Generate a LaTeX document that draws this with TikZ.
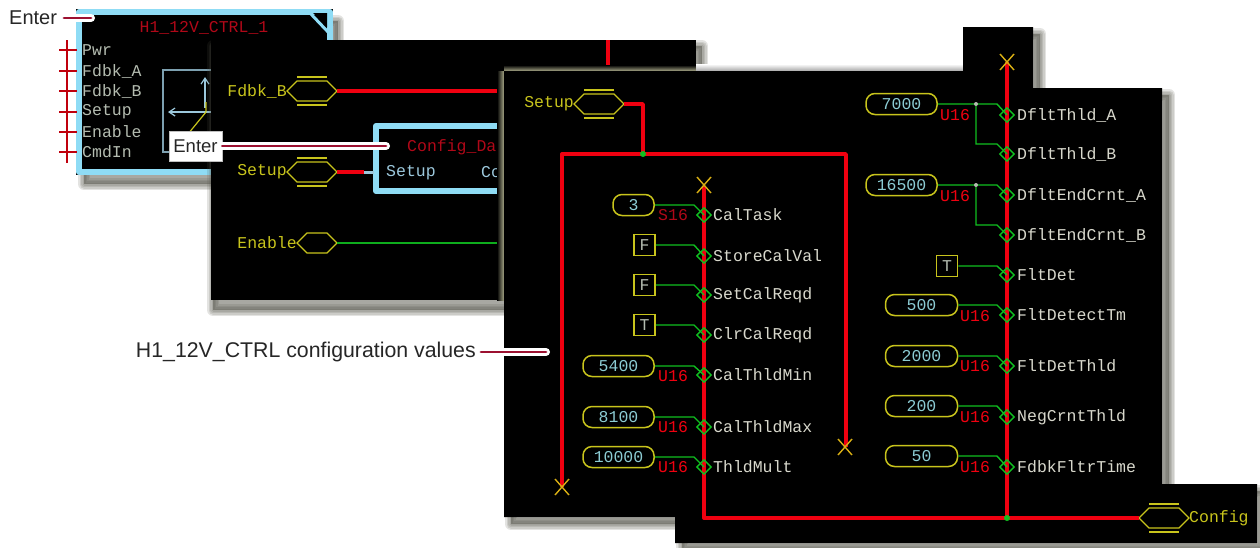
\documentclass[tikz,border=0pt]{standalone}
\usepackage{fontspec}
\setmainfont{Liberation Sans}
\newfontfamily\cadfont{Liberation Mono}
\usetikzlibrary{calc,shapes.geometric,arrows.meta}
\definecolor{cadcyan}{HTML}{8FDCF5}
\definecolor{cadred}{HTML}{F00010}
\definecolor{darkred}{HTML}{B00818}
\definecolor{cadyellow}{HTML}{C8C41C}
\definecolor{cadgreen}{HTML}{10C020}
\definecolor{cadval}{HTML}{8CCCD4}
\definecolor{cadlabel}{HTML}{D8D8CC}
\definecolor{cadgrey}{HTML}{B4BCB0}
\definecolor{cadblue}{HTML}{9CC8DC}
\definecolor{leader}{HTML}{9C1030}
\definecolor{shade}{HTML}{55554A}
\definecolor{khaki}{HTML}{A8A888}
\tikzset{
  cad/.style={font=\cadfont\fontsize{16.5}{18}\selectfont,inner sep=0pt},
  sig/.style={cad,anchor=west,text=cadlabel},
  pinlabel/.style={cad,anchor=west,text=cadgrey},
  portlabel/.style={cad,anchor=east,text=cadyellow},
  typelabel/.style={cad,anchor=west,text=cadred},
  valbox/.style={cad,draw=cadyellow,line width=1.5pt,rounded corners=9pt,minimum height=21pt,text=cadval},
  constbox/.style={cad,draw=cadyellow,line width=1.5pt,minimum width=21pt,minimum height=21pt,text=cadgrey},
  pindia/.style={diamond,draw=cadgreen,line width=1.4pt,minimum width=15pt,minimum height=15pt,inner sep=0pt},
  wire/.style={draw=cadgreen,line width=1.4pt},
  bus/.style={draw=cadred,line width=3.4pt},
  endx/.style={draw=cadyellow!70!orange,line width=1.4pt},
  dot/.style={circle,fill=cadgreen,inner sep=0pt,minimum size=6pt},
  greydot/.style={circle,fill=cadgrey,inner sep=0pt,minimum size=4pt},
  callout/.style={font=\fontsize{20}{22}\selectfont,inner sep=0pt,text=black!85},
  halo/.style={draw=white,line width=8pt,line cap=round},
  halo2/.style={draw=leader,line width=2.8pt,line cap=round},
  panel/.style={fill=black},
}
% soft shadow for a closed path: #1 offset, #2 path
\newcommand{\softshade}[2]{%
  \foreach \w in {12,9,6,3}{%
    \path[fill=shade,draw=shade,opacity=.16,line width=\w pt,line join=round,shift={#1}] #2;}%
}
% bus port: #1 name, #2 x left, #3 y, #4 double
\newcommand{\porthex}[4]{%
  \coordinate (#1-l) at (#2,#3);
  \coordinate (#1-r) at ({#2+50},#3);
  \draw[cadyellow,line width=1.3pt] (#1-l) -- ++(10,-10) -- ++(30,0) -- (#1-r) -- ++(-10,10) -- ++(-30,0) -- cycle;
  \ifnum#4=1
    \draw[cadyellow,line width=1.3pt] ({#2+10},{#3-14}) -- ++(30,0) ({#2+10},{#3+14}) -- ++(30,0);
  \fi
}
\newcommand{\xmarkat}[2]{%
  \draw[endx] ({#1-7},{#2-8}) -- ({#1+7},{#2+8}) ({#1-7},{#2+8}) -- ({#1+7},{#2-8});
}
\newcommand{\feed}[2]{% from source #1 to pin #2
  \coordinate (bend) at ($(#2)+(-10,0)$);
  \draw[wire] (#1.east) -- (bend |- #1.east) -- (#2.center);
}
\begin{document}
\begin{tikzpicture}[x=1pt,y=-1pt]
\useasboundingbox (0,0) rectangle (1260,547);
\fill[white] (0,0) rectangle (1260,547);

%%% back panel
\softshade{(7,11)}{(77,10) rectangle (331,173)}
\fill[panel] (76,9) rectangle (333,175);
\draw[cadcyan,line width=6pt,line join=round] (79,12) -- (330,12) -- (330,172) -- (79,172) -- cycle;
\fill[black] (313,13) -- (327,13) -- (327,27) -- cycle;
\draw[cadcyan,line width=3pt] (310,13) -- (329,33);
\node[cad,text=darkred] (title1) at (204,28) {H1\_12V\_CTRL\_1};
\draw[cadred!80!black,line width=1.3pt] (67,40) -- (67,163);
\foreach \n/\t/\y in {a/Pwr/50,b/Fdbk\_A/71,c/Fdbk\_B/91,d/Setup/112,e/Enable/132,f/CmdIn/152}{
  \node[pinlabel] (pin\n) at (82,\y) {\t};
  \draw[cadred!80!black,line width=1.3pt,shorten >=5pt] (59,\y) -- (pin\n.west);
}
\draw[cadblue!80!black,line width=1.2pt] (230,70) -- (163,70) -- (163,152) -- (230,152);
\draw[cadblue,line width=1.2pt,-{Straight Barb[length=6pt,width=8pt]}] (215,112) -- (168,112);
\draw[cadblue,line width=1.2pt,-{Straight Barb[length=6pt,width=8pt]}] (205,108) -- (205,77);
\draw[cadyellow,line width=1.2pt] (188,134) -- (206,112) -- (206,102);

%%% middle panel
\softshade{(4,8)}{(209,38) rectangle (698,302)}
\fill[panel] (211,40) rectangle (696,300);
\porthex{fb}{287}{91}{1}
\node[portlabel] (fbl) at (fb-l) {Fdbk\_B};
\draw[bus] (fb-r) -- (540,91);
\draw[bus] (608,40) -- (608,80);
\draw[cadcyan,line width=6pt,line join=round] (540,126) -- (376,126) -- (376,191) -- (540,191);
\node[cad,anchor=west,text=darkred] (cfg) at (407,147) {Config\_Data};
\node[cad,anchor=west,text=cadblue] (st) at (386,173) {Setup};
\node[cad,anchor=west,text=cadblue] (co) at (481,173) {Config};
\porthex{su}{287}{172}{1}
\node[portlabel] (sul) at (su-l) {Setup};
\coordinate (stub) at (374,172);
\draw[bus] (su-r) -- (364,172);
\draw[cadblue,line width=3pt] (364,172) -- (stub);
\coordinate (enL) at (297,243);
\draw[cadyellow,line width=1.3pt] (297,243) -- ++(10,-10) -- ++(20,0) -- ++(10,10) -- ++(-10,10) -- ++(-20,0) -- cycle;
\coordinate (enR) at (337,243);
\node[portlabel] (enl) at (enL) {Enable};
\draw[wire,draw=cadgreen!90!black] (enR) -- (540,243);

%%% front panel
\shade[left color=black,right color=khaki] (497,71) rectangle (504,300);
\shade[top color=black,bottom color=khaki] (504,65) rectangle (696,71);
\shade[top color=white,bottom color=black!35] (696,64) rectangle (963,71);
\softshade{(7,7)}{(504,71) -- (964,71) -- (964,27) -- (1033,27) -- (1033,88) -- (1162,88) -- (1162,484) -- (1257,484) -- (1257,543) -- (675,543) -- (675,517) -- (504,517) -- cycle}
\fill[panel] (504,71) -- (963,71) -- (963,27) -- (1033,27) -- (1033,88) -- (1162,88) -- (1162,484) -- (1257,484) -- (1257,543) -- (675,543) -- (675,517) -- (504,517) -- cycle;
\porthex{fs}{574}{104}{1}
\node[portlabel] (fsl) at (fs-l) {Setup};
\porthex{fc}{1139}{518}{1}
\node[cad,anchor=west,text=cadyellow] (fcl) at (fc-r) {Config};
\coordinate (jn) at (643,154);
\coordinate (jm) at (1007,518);
\draw[bus,line join=round] (fs-r) -| (jn);
\draw[bus,line join=round] (562,487) -- (562,154) -- (846,154) -- (846,447);
\draw[bus,line join=round] (704,186) -- (704,518) -- (fc-l);
\draw[bus] (1007,62) -- (jm);
\node[dot] (jnd) at (jn) {};
\node[dot] (jmd) at (jm) {};
\xmarkat{562}{487}
\xmarkat{845}{447}
\xmarkat{704}{185}
\xmarkat{1007}{62}

%% left column
\foreach \n/\t/\y in {a/CalTask/215,b/StoreCalVal/256,c/SetCalReqd/295,d/ClrCalReqd/335,e/CalThldMin/375,f/CalThldMax/427,g/ThldMult/467}{
  \node[pindia] (l\n) at (704,\y) {};
  \node[sig] (ll\n) at (713,\y) {\t};
}
\node[valbox,minimum width=41pt] (va) at (633.5,205) {3};
\node[constbox] (vb) at (644.5,245) {F};
\node[constbox] (vc) at (644.5,285) {F};
\node[constbox] (vd) at (644.5,325) {T};
\node[valbox,minimum width=71pt] (ve) at (618.5,366) {5400};
\node[valbox,minimum width=71pt] (vf) at (618.5,417) {8100};
\node[valbox,minimum width=71pt] (vg) at (618.5,457) {10000};
\feed{va}{la}\feed{vb}{lb}\feed{vc}{lc}\feed{vd}{ld}\feed{ve}{le}\feed{vf}{lf}\feed{vg}{lg}
\node[typelabel,text=darkred] (ta) at (658,215) {S16};
\node[typelabel] (te) at (658,376) {U16};
\node[typelabel] (tf) at (658,427) {U16};
\node[typelabel] (tg) at (658,467) {U16};

%% right column
\foreach \n/\t/\y in {a/DfltThld\_A/115,b/DfltThld\_B/154,c/DfltEndCrnt\_A/195,d/DfltEndCrnt\_B/235,e/FltDet/275,f/FltDetectTm/315,g/FltDetThld/366,h/NegCrntThld/417,i/FdbkFltrTime/467}{
  \node[pindia] (r\n) at (1007,\y) {};
  \node[sig] (rl\n) at (1017,\y) {\t};
}
\node[valbox,minimum width=71pt] (wa) at (901.5,104) {7000};
\node[valbox,minimum width=71pt] (wc) at (901.5,185) {16500};
\node[constbox] (we) at (947,266) {T};
\node[valbox,minimum width=72pt] (wf) at (921.5,305) {500};
\node[valbox,minimum width=72pt] (wg) at (921.5,356) {2000};
\node[valbox,minimum width=72pt] (wh) at (921.5,406) {200};
\node[valbox,minimum width=72pt] (wi) at (921.5,456) {50};
\feed{wa}{ra}\feed{wc}{rc}\feed{we}{re}\feed{wf}{rf}\feed{wg}{rg}\feed{wh}{rh}\feed{wi}{ri}
\node[greydot] (da) at (976,104) {};
\node[greydot] (dc) at (976,185) {};
\draw[wire] (da) -- (976,144) -- ($(rb)+(-10,-10)$) -- (rb.center);
\draw[wire] (dc) -- (976,225) -- ($(rd)+(-10,-10)$) -- (rd.center);
\node[typelabel] (ua) at (940,115) {U16};
\node[typelabel] (uc) at (940,196) {U16};
\node[typelabel] (uf) at (960,316) {U16};
\node[typelabel] (ug) at (960,366) {U16};
\node[typelabel] (uh) at (960,417) {U16};
\node[typelabel] (ui) at (960,467) {U16};

%%% callouts
\node[callout,anchor=west] (en1) at (9,18) {Enter};
\coordinate (en1e) at (91,18);
\draw[halo] (67,18) -- (en1e);
\draw[halo2] (64,18) -- (en1e);
\node[callout,fill=white,draw=black!25,line width=.5pt,minimum width=53pt,minimum height=30pt,font=\fontsize{18.5}{20}\selectfont] (en2) at (195.5,146.5) {Enter};
\coordinate (en2e) at (386,146);
\draw[halo] (en2.east |- en2e) -- (en2e);
\draw[halo2] (en2.east |- en2e) -- (en2e);
\node[callout,anchor=east,font=\fontsize{21.3}{23}\selectfont] (cv) at (476,352) {H1\_12V\_CTRL configuration values};
\coordinate (cve) at (546,352);
\draw[halo] (cv.east)++(7,0) -- (cve);
\draw[halo2] (cv.east)++(5,0) -- (cve);
\end{tikzpicture}
\end{document}
